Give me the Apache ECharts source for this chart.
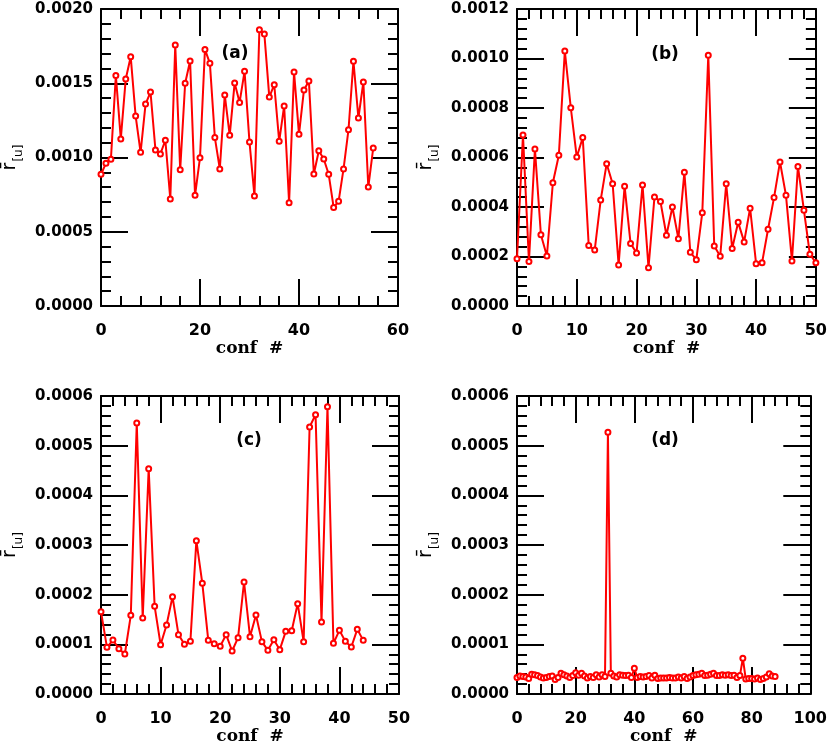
<!DOCTYPE html>
<html>
<head>
<meta charset="utf-8">
<script src="https://cdn.jsdelivr.net/npm/echarts@6/dist/echarts.min.js"></script>
<style>html,body{margin:0;padding:0;background:#fff;}#c{width:830px;height:748px;}</style>
</head>
<body>
<div id="c"></div>
<script>
// ---- data (conf # = index) ----
const rA = [0.000887,0.000961,0.000988,0.001553,0.001125,0.001529,0.001679,0.001279,0.001035,0.001360,
  0.001441,0.001051,0.001024,0.001116,0.000721,0.001758,0.000918,0.001500,0.001650,0.000745,
  0.000999,0.001728,0.001634,0.001134,0.000923,0.001421,0.001149,0.001502,0.001371,0.001580,
  0.001104,0.000741,0.001861,0.001832,0.001407,0.001490,0.001109,0.001347,0.000696,0.001576,
  0.001156,0.001455,0.001515,0.000889,0.001046,0.000990,0.000887,0.000664,0.000705,0.000923,
  0.001187,0.001648,0.001266,0.001508,0.000801,0.001064];
const rB = [0.000191,0.000691,0.000180,0.000634,0.000288,0.000202,0.000498,0.000609,0.001030,0.000801,
  0.000602,0.000681,0.000244,0.000226,0.000428,0.000575,0.000494,0.000166,0.000484,0.000253,
  0.000214,0.000489,0.000155,0.000440,0.000422,0.000286,0.000400,0.000272,0.000540,0.000217,
  0.000187,0.000377,0.001013,0.000242,0.000201,0.000494,0.000232,0.000338,0.000259,0.000395,
  0.000171,0.000175,0.000310,0.000438,0.000582,0.000447,0.000182,0.000564,0.000387,0.000209,
  0.000175];
const rC = [0.0001658,0.0000940,0.0001087,0.0000913,0.0000805,0.0001584,0.0005456,0.0001530,0.0004537,0.0001765,
  0.0000993,0.0001389,0.0001960,0.0001195,0.0001000,0.0001060,0.0003087,0.0002228,0.0001080,0.0001013,
  0.0000960,0.0001195,0.0000866,0.0001134,0.0002255,0.0001154,0.0001591,0.0001054,0.0000879,0.0001094,
  0.0000893,0.0001262,0.0001275,0.0001819,0.0001054,0.0005376,0.0005624,0.0001450,0.0005785,0.0001020,
  0.0001282,0.0001060,0.0000946,0.0001302,0.0001080];
const rD = [0.000033,0.000036,0.000035,0.000034,0.000031,0.000040,0.000039,0.000037,0.000034,0.000032,
  0.000033,0.000035,0.000036,0.000029,0.000033,0.000042,0.000039,0.000036,0.000033,0.000037,
  0.000043,0.000038,0.000042,0.000036,0.000032,0.000035,0.000033,0.000039,0.000034,0.000039,
  0.000035,0.000527,0.000042,0.000036,0.000034,0.000039,0.000038,0.000037,0.000038,0.000033,
  0.000052,0.000033,0.000035,0.000034,0.000035,0.000037,0.000032,0.000038,0.000031,0.000032,
  0.000032,0.000032,0.000033,0.000032,0.000032,0.000034,0.000032,0.000035,0.000031,0.000034,
  0.000037,0.000039,0.000040,0.000042,0.000037,0.000038,0.000040,0.000042,0.000037,0.000037,
  0.000039,0.000038,0.000039,0.000037,0.000038,0.000033,0.000037,0.000072,0.000030,0.000031,
  0.000031,0.000030,0.000032,0.000029,0.000031,0.000034,0.000041,0.000036,0.000035];

const panelLabels = ['(a)', '(b)', '(c)', '(d)'];
const xMaxs = [60, 50, 50, 100];
const xSteps = [20, 10, 10, 20];
const yMaxs = [0.0020, 0.0012, 0.0006, 0.0006];
const ySteps = [0.0005, 0.0002, 0.0001, 0.0001];
const xName = 'conf  #';
const yName = '{r|r\u0304}{s|[u]}';

// ---- layout ----
const grids = [
  {left: 100, top: 9, width: 298, height: 297},
  {left: 517, top: 9, width: 299, height: 297},
  {left: 100, top: 396, width: 299, height: 298},
  {left: 517, top: 396, width: 298, height: 298}
];
const labelPos = [[235, 54], [665, 55], [249, 441], [665, 441]];

const numFont = '"DejaVu Sans", sans-serif';
const black = '#000';
const tick = {show: true, inside: true, length: 27, lineStyle: {color: black, width: 2}};
const minor = {show: true, splitNumber: 5, length: 10, lineStyle: {color: black, width: 2}};
const line = {show: true, onZero: false, lineStyle: {color: black, width: 2}};

const series = [rA, rB, rC, rD];
const xAxis = [], yAxis = [], seriesOpt = [], graphic = [];
grids.forEach((g, i) => {
  xAxis.push({
    type: 'value', gridIndex: i, position: 'bottom', min: 0, max: xMaxs[i], interval: xSteps[i],
    axisLine: line, axisTick: tick, minorTick: minor, splitLine: {show: false},
    axisLabel: {color: black, fontFamily: numFont, fontWeight: 'bold', fontSize: 16, margin: 17},
    name: xName, nameLocation: 'middle', nameGap: 34,
    nameTextStyle: {color: black, fontFamily: '"DejaVu Serif", serif', fontWeight: 'bold', fontSize: 17}
  });
  xAxis.push({
    type: 'value', gridIndex: i, position: 'top', min: 0, max: xMaxs[i], interval: xSteps[i],
    axisLine: line, axisTick: tick, minorTick: minor, splitLine: {show: false}, axisLabel: {show: false}
  });
  yAxis.push({
    type: 'value', gridIndex: i, position: 'left', min: 0, max: yMaxs[i], interval: ySteps[i],
    axisLine: line, axisTick: tick, minorTick: minor, splitLine: {show: false},
    axisLabel: {color: black, fontFamily: numFont, fontWeight: 'bold', fontSize: 15, margin: 8,
      formatter: v => v.toFixed(4)},
    name: yName, nameLocation: 'middle', nameRotate: 90, nameGap: 76,
    nameTextStyle: {rich: {
      r: {fontFamily: numFont, fontSize: 19, color: black, verticalAlign: 'top'},
      s: {fontFamily: numFont, fontSize: 12, color: black, verticalAlign: 'bottom', padding: [12, 0, 0, 1]}
    }}
  });
  yAxis.push({
    type: 'value', gridIndex: i, position: 'right', min: 0, max: yMaxs[i], interval: ySteps[i],
    axisLine: line, axisTick: tick, minorTick: minor, splitLine: {show: false}, axisLabel: {show: false}
  });
  seriesOpt.push({
    type: 'line', xAxisIndex: 2 * i, yAxisIndex: 2 * i,
    data: series[i].map((v, k) => [k, v]),
    symbol: 'emptyCircle', symbolSize: 5,
    lineStyle: {color: '#ff0000', width: 2},
    itemStyle: {color: '#ff0000', borderColor: '#ff0000', borderWidth: 2},
    clip: false, animation: false
  });
  graphic.push({
    type: 'text', x: labelPos[i][0], y: labelPos[i][1],
    style: {text: panelLabels[i], fill: black, font: 'bold 17px "DejaVu Sans", sans-serif',
      align: 'center', verticalAlign: 'middle'}
  });
});

const chart = echarts.init(document.getElementById('c'), null, {renderer: 'canvas'});
chart.setOption({
  animation: false,
  backgroundColor: '#fff',
  grid: grids,
  xAxis: xAxis,
  yAxis: yAxis,
  series: seriesOpt,
  graphic: graphic
});
</script>
</body>
</html>
